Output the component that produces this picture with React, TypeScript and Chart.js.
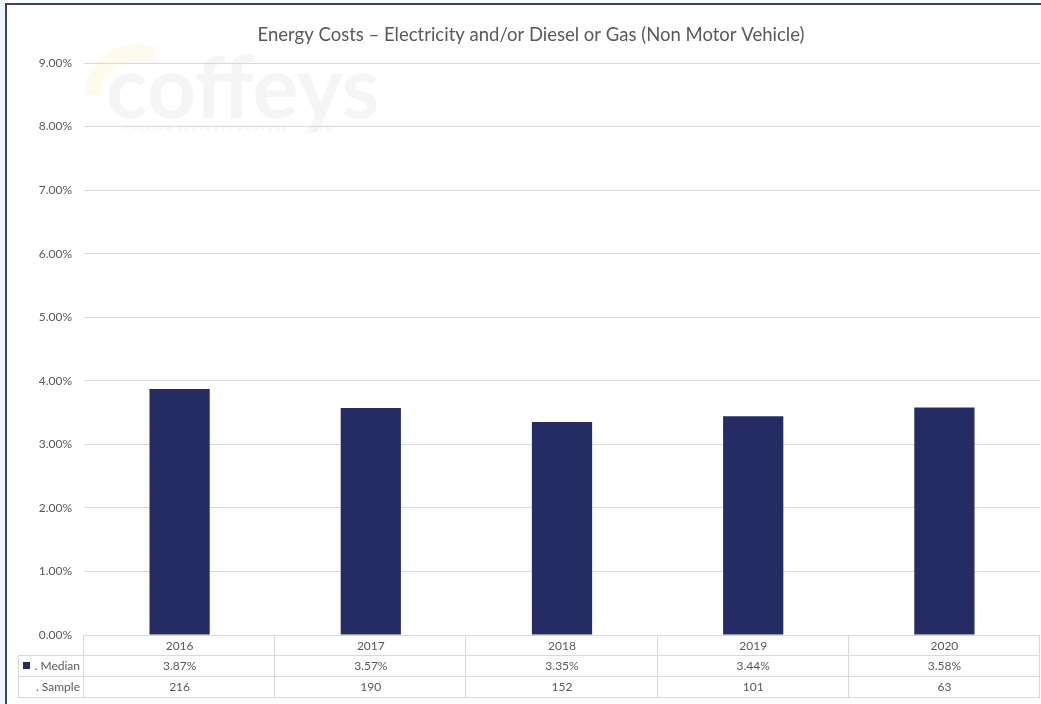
import { useEffect, useRef } from "react";
import { Chart, registerables } from "chart.js";

Chart.register(...registerables);

const W = 1041;
const H = 704;

const titleText = "Energy Costs – Electricity and/or Diesel or Gas (Non Motor Vehicle)";
const years = ["2016", "2017", "2018", "2019", "2020"];
const median = [3.87, 3.57, 3.35, 3.44, 3.58];
const sample = [216, 190, 152, 101, 63];
const rowLabels = [". Median", ". Sample"];

const FONT = 'Lato, "Open Sans", sans-serif';
const TEXT = "#595959";
const GRID = "#d9d9d9";
const BAR = "#242c63";

const framePlugin = {
  id: "frameAndMark",
  beforeDraw(chart: any) {
    const ctx = chart.ctx as CanvasRenderingContext2D;
    ctx.save();
    ctx.fillStyle = "#ffffff";
    ctx.fillRect(0, 0, W, H);
    ctx.fillStyle = "#eef4fc";
    ctx.fillRect(0, 0, 5, H);
    ctx.strokeStyle = "#34427a";
    ctx.lineWidth = 2;
    ctx.beginPath();
    ctx.moveTo(6, H);
    ctx.lineTo(6, 4);
    ctx.lineTo(W, 4);
    ctx.stroke();

    // faint brand mark behind the plot
    ctx.strokeStyle = "rgba(250, 215, 110, 0.12)";
    ctx.lineWidth = 16;
    ctx.beginPath();
    ctx.arc(138, 98, 46, Math.PI * 1.02, Math.PI * 1.62);
    ctx.stroke();
    ctx.fillStyle = "#f5f5f5";
    ctx.font = `bold 86px ${FONT}`;
    ctx.textAlign = "left";
    ctx.textBaseline = "alphabetic";
    ctx.fillText("coffeys", 106, 118);
    ctx.fillStyle = "#f1f1f1";
    ctx.font = `8px ${FONT}`;
    ctx.fillText("T O U R I S M   P R O P E R T Y   B R O K E R S", 123, 131);
    ctx.fillText("L T D", 313, 131);
    ctx.restore();
  },
  afterDraw(chart: any) {
    const ctx = chart.ctx as CanvasRenderingContext2D;
    const area = chart.chartArea;
    const left = area.left;
    const right = area.right;
    const colW = (right - left) / years.length;
    const rows = [area.bottom, area.bottom + 20, area.bottom + 41, area.bottom + 62];
    const labelLeft = 18;

    ctx.save();
    // title
    ctx.fillStyle = TEXT;
    ctx.font = `18.5px ${FONT}`;
    ctx.textAlign = "center";
    ctx.textBaseline = "middle";
    ctx.fillText(titleText, 531, 35);

    // data table grid
    ctx.strokeStyle = GRID;
    ctx.lineWidth = 1;
    ctx.beginPath();
    ctx.moveTo(left, rows[0] + 0.5);
    ctx.lineTo(right, rows[0] + 0.5);
    for (let r = 1; r < rows.length; r++) {
      ctx.moveTo(labelLeft, rows[r] + 0.5);
      ctx.lineTo(right, rows[r] + 0.5);
    }
    for (let c = 0; c <= years.length; c++) {
      const x = Math.round(left + c * colW) - 0.5;
      ctx.moveTo(x, rows[0]);
      ctx.lineTo(x, rows[3]);
    }
    ctx.moveTo(labelLeft + 0.5, rows[1]);
    ctx.lineTo(labelLeft + 0.5, rows[3]);
    ctx.stroke();

    // cell text
    ctx.fillStyle = TEXT;
    ctx.font = `12px ${FONT}`;
    ctx.textAlign = "center";
    ctx.textBaseline = "middle";
    const xScale = chart.scales.x;
    years.forEach((yr, i) => {
      const cx = xScale.getPixelForValue(i);
      ctx.fillText(yr, cx, (rows[0] + rows[1]) / 2 + 1);
      ctx.fillText(median[i].toFixed(2) + "%", cx, (rows[1] + rows[2]) / 2 + 1);
      ctx.fillText(String(sample[i]), cx, (rows[2] + rows[3]) / 2 + 1);
    });

    // row headers with legend key
    ctx.textAlign = "right";
    ctx.fillText(rowLabels[0], left - 4, (rows[1] + rows[2]) / 2 + 1);
    ctx.fillText(rowLabels[1], left - 4, (rows[2] + rows[3]) / 2 + 1);
    ctx.fillStyle = BAR;
    ctx.fillRect(23, rows[1] + 7, 7, 7);
    ctx.restore();
  },
};

export default function App() {
  const ref = useRef<HTMLCanvasElement | null>(null);

  useEffect(() => {
    if (!ref.current) return;
    const chart = new Chart(ref.current, {
      type: "bar",
      data: {
        labels: years,
        datasets: [
          {
            label: "Median",
            data: median,
            backgroundColor: BAR,
            borderWidth: 0,
            barPercentage: 0.315,
            categoryPercentage: 1,
          },
        ],
      },
      options: {
        responsive: false,
        animation: false,
        layout: { padding: { top: 63, bottom: 69, right: 1, left: 0 } },
        plugins: {
          legend: { display: false },
          title: { display: false },
          tooltip: { enabled: false },
        },
        scales: {
          x: { display: false },
          y: {
            min: 0,
            max: 9,
            afterFit: (s: any) => {
              s.width = 84;
            },
            ticks: {
              stepSize: 1,
              padding: 12,
              color: TEXT,
              font: { family: FONT, size: 12 },
              callback: (v: any) => Number(v).toFixed(2) + "%",
            },
            grid: { color: GRID, drawTicks: false },
            border: { display: false },
          },
        },
      },
      plugins: [framePlugin],
    });
    return () => chart.destroy();
  }, []);

  return (
    <div style={{ position: "fixed", left: 0, top: 0, width: W, height: H, background: "#fff" }}>
      <canvas ref={ref} width={W} height={H} style={{ display: "block" }} />
    </div>
  );
}
